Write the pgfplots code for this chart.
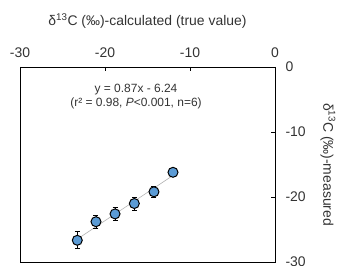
\documentclass[border=0pt]{standalone}
\usepackage{fontspec}
\setmainfont{Liberation Sans}
\usepackage{pgfplots}
\pgfplotsset{compat=1.18}
\definecolor{ptblue}{HTML}{5B9BD5}
\begin{document}
\begin{tikzpicture}
\path[use as bounding box] (-20bp,-4bp) rectangle (321bp,262bp);
\begin{axis}[
  at={(0,0)}, anchor=south west,
  scale only axis, width=255bp, height=195bp,
  xmin=-30, xmax=0, ymin=-30, ymax=0,
  axis line style={line width=1pt},
  xtick={-30,-20,-10,0}, xticklabels={-30,-20,-10,0},
  ytick={-30,-20,-10,0}, yticklabels={-30,-20,-10,0},
  xtick pos=upper, ytick pos=right,
  xticklabel pos=upper, yticklabel pos=right,
  tick align=inside, major tick length=4bp,
  tick style={line width=1pt, black},
  ticklabel style={font=\fontsize{14}{16}\selectfont, color=black!80},
  xticklabel style={yshift=6bp},
  yticklabel style={xshift=7bp},
  xlabel={δ\textsuperscript{13}C (‰)-calculated (true value)},
  ylabel={δ\textsuperscript{13}C (‰)-measured},
  label style={font=\fontsize{14}{16}\selectfont, color=black!80},
  xlabel style={yshift=12bp},
  ylabel style={rotate=180, yshift=8bp},
  clip=false,
]
\addplot[gray!60, line width=0.6pt] coordinates {(-23.26,-26.48) (-12.0,-16.68)};
\addplot[only marks, mark=*, mark size=5bp,
  mark options={fill=ptblue, draw=black, line width=1pt},
  error bars/.cd, y dir=both, y explicit,
  error bar style={black, line width=0.8pt},
  error mark options={black, rotate=90, mark size=2.5bp, line width=0.8pt}]
  coordinates {
  (-23.26,-26.66) +- (0,1.3)
  (-21.06,-23.8) +- (0,1.0)
  (-18.82,-22.6) +- (0,1.0)
  (-16.55,-21.0) +- (0,1.0)
  (-14.24,-19.2) +- (0,0.9)
  (-12.0,-16.2) +- (0,0.6)
  };
\node[align=center, font=\fontsize{12}{14}\selectfont, color=black!80] at (axis cs:-16.35,-4.6)
  {y = 0.87x - 6.24\\(r² = 0.98, \textit{P}<0.001, n=6)};
\end{axis}
\end{tikzpicture}
\end{document}
